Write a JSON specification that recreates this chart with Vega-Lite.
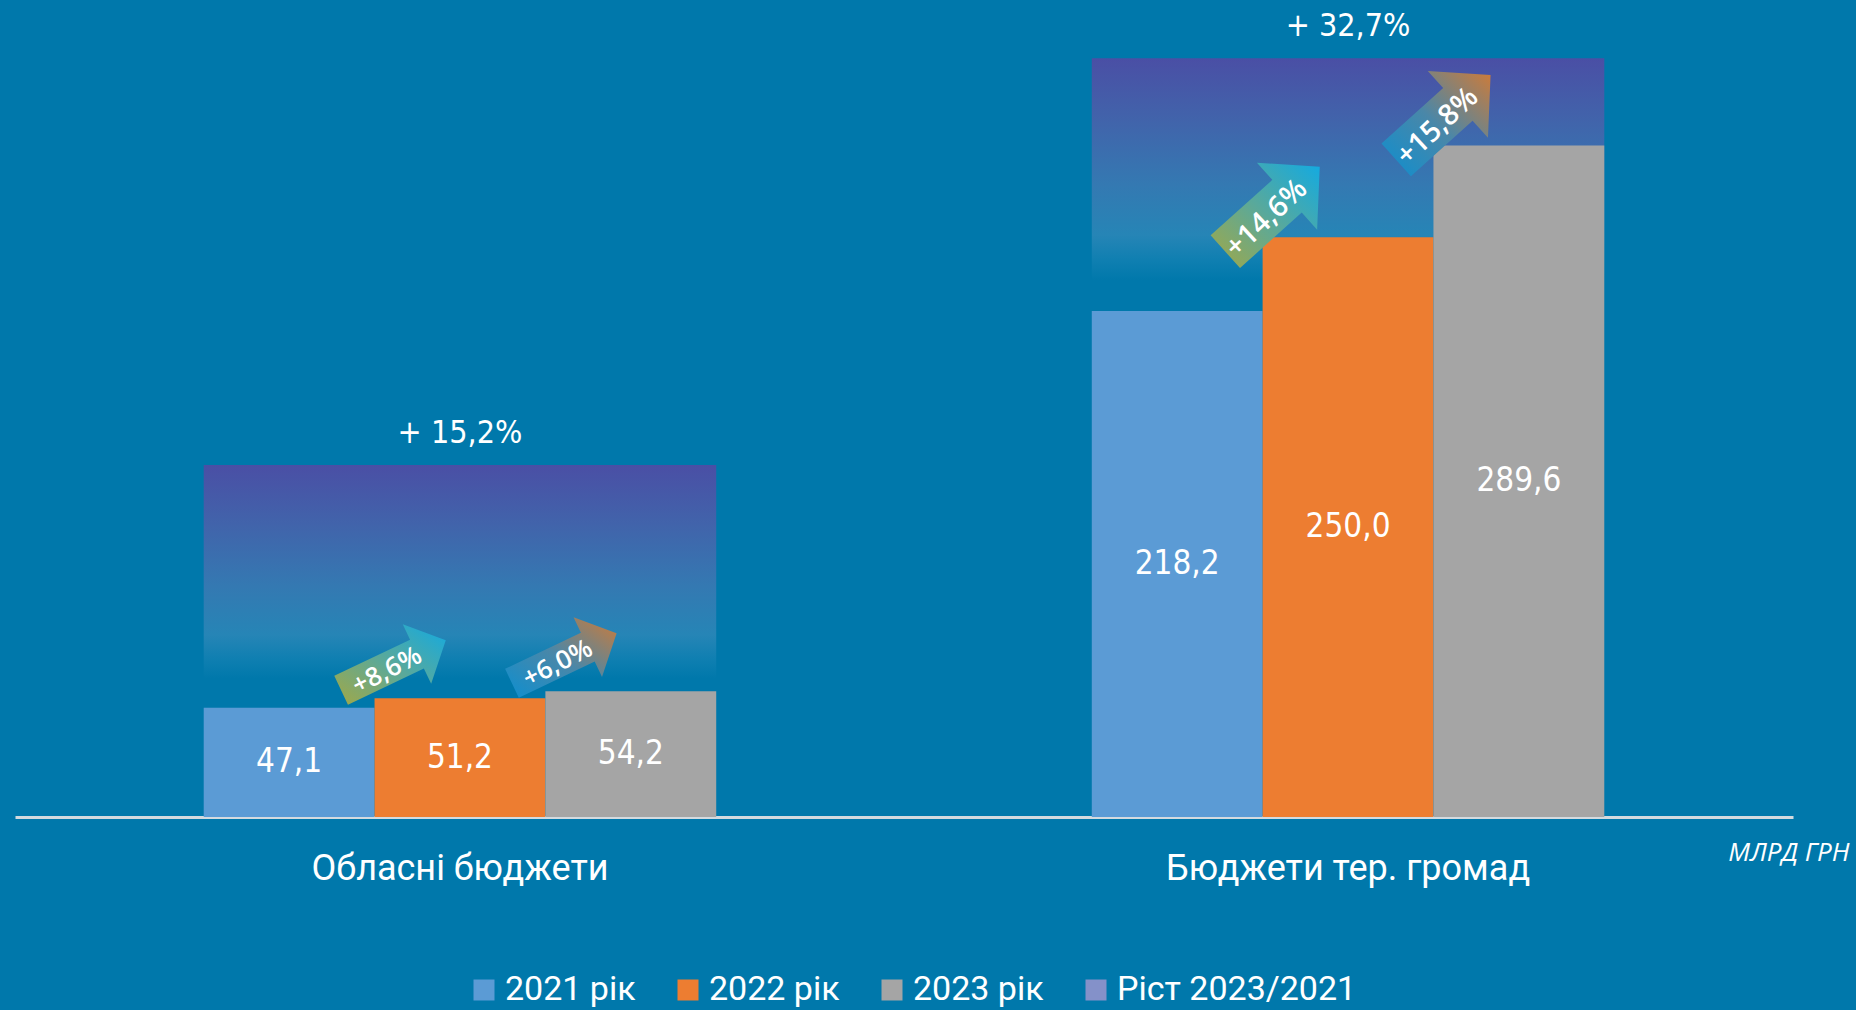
{
  "$schema": "https://vega.github.io/schema/vega-lite/v6.json",
  "width": 1778,
  "height": 817,
  "autosize": {"type": "none"},
  "padding": {"left": 15, "top": 0, "right": 63, "bottom": 193},
  "background": "#0078AB",
  "config": {"view": {"stroke": null}},
  "datasets": {
    "bars": [
      {"category": "Обласні бюджети", "series": "2021 рік", "value": 47.1, "label": "47,1"},
      {"category": "Обласні бюджети", "series": "2022 рік", "value": 51.2, "label": "51,2", "growth": "+8,6%"},
      {"category": "Обласні бюджети", "series": "2023 рік", "value": 54.2, "label": "54,2", "growth": "+6,0%"},
      {"category": "Бюджети тер. громад", "series": "2021 рік", "value": 218.2, "label": "218,2"},
      {"category": "Бюджети тер. громад", "series": "2022 рік", "value": 250.0, "label": "250,0", "growth": "+14,6%"},
      {"category": "Бюджети тер. громад", "series": "2023 рік", "value": 289.6, "label": "289,6", "growth": "+15,8%"}
    ],
    "growth": [
      {"category": "Обласні бюджети", "series": "Ріст 2023/2021", "top": 151.8, "base": 47.1, "label": "+ 15,2%"},
      {"category": "Бюджети тер. громад", "series": "Ріст 2023/2021", "top": 327.2, "base": 218.2, "label": "+ 32,7%"}
    ]
  },
  "resolve": {"scale": {"y": "independent"}},
  "encoding": {
    "x": {
      "field": "category",
      "type": "nominal",
      "scale": {"domain": ["Обласні бюджети", "Бюджети тер. громад"], "paddingInner": 0.4229, "paddingOuter": 0.2125},
      "axis": {
        "title": "МЛРД ГРН",
        "titleFont": "Open Sans",
        "titleFontStyle": "italic",
        "titleFontWeight": "normal",
        "titleFontSize": 26,
        "titleColor": "white",
        "titleX": 1834,
        "titleY": 35,
        "titleAlign": "right",
        "titleBaseline": "middle",
        "labelFont": "Roboto",
        "labelFontSize": 36,
        "labelColor": "white",
        "labelPadding": 34,
        "labelLimit": 1000,
        "labelAngle": 0,
        "ticks": false,
        "grid": false,
        "domainColor": "#d3dadf",
        "domainWidth": 3
      }
    }
  },
  "layer": [
    {
      "data": {"name": "growth"},
      "mark": {
        "type": "bar",
        "color": {
          "gradient": "linear", "x1": 0, "y1": 0, "x2": 0, "y2": 1,
          "stops": [
            {"offset": 0, "color": "#4a4fa5"},
            {"offset": 0.25, "color": "#4164ab"},
            {"offset": 0.5, "color": "#3479b2"},
            {"offset": 0.7, "color": "#2685b6"},
            {"offset": 0.8, "color": "#0f7fb1"},
            {"offset": 0.88, "color": "#0078AB"},
            {"offset": 1, "color": "#0078AB"}
          ]
        }
      },
      "encoding": {
        "y": {"field": "top", "type": "quantitative", "scale": {"domain": [0, 352.3], "nice": false}, "axis": null},
        "y2": {"field": "base"}
      }
    },
    {
      "data": {"name": "bars"},
      "mark": {"type": "bar"},
      "encoding": {
        "xOffset": {"field": "series", "type": "nominal", "scale": {"paddingInner": 0, "paddingOuter": 0}},
        "y": {"field": "value", "type": "quantitative", "scale": {"domain": [0, 352.3], "nice": false}, "axis": null},
        "color": {
          "field": "series",
          "type": "nominal",
          "scale": {
            "domain": ["2021 рік", "2022 рік", "2023 рік", "Ріст 2023/2021"],
            "range": ["#5B9BD5", "#ED7D31", "#A5A5A5", "#8491c9"]
          },
          "legend": {
            "orient": "none",
            "legendX": 452,
            "legendY": 973,
            "direction": "horizontal",
            "columns": 4,
            "title": null,
            "symbolType": "square",
            "symbolSize": 441,
            "symbolStrokeWidth": 0,
            "symbolOpacity": 1,
            "labelFont": "Roboto",
            "labelFontSize": 34,
            "labelColor": "white",
            "labelOffset": 4,
            "labelLimit": 400,
            "columnPadding": 35,
            "padding": 0
          }
        }
      }
    },
    {
      "data": {"name": "bars"},
      "mark": {"type": "text", "color": "white", "font": "'Liberation Sans Narrow', 'DejaVu Sans Condensed', Roboto, sans-serif", "fontSize": 33, "align": "center", "baseline": "middle"},
      "encoding": {
        "xOffset": {"field": "series", "type": "nominal"},
        "y": {"field": "value", "type": "quantitative", "scale": {"domain": [0, 704.6], "nice": false}, "axis": null},
        "text": {"field": "label"}
      }
    },
    {
      "data": {"name": "growth"},
      "mark": {"type": "text", "color": "white", "font": "'Liberation Sans Narrow', 'DejaVu Sans Condensed', Roboto, sans-serif", "fontSize": 32, "align": "center", "baseline": "middle", "dy": -32},
      "encoding": {
        "y": {"field": "top", "type": "quantitative", "scale": {"domain": [0, 352.3], "nice": false}, "axis": null},
        "text": {"field": "label"}
      }
    },
    {
      "data": {"name": "bars"},
      "transform": [{"filter": "datum.series === '2022 рік'"}],
      "mark": {"type": "point", "filled": true, "opacity": 1, "size": 4, "strokeWidth": 0,
               "color": {"gradient": "linear", "x1": 0, "y1": 1, "x2": 1, "y2": 0,
                         "stops": [{"offset": 0, "color": "#a3a845"}, {"offset": 0.5, "color": "#5aa99a"}, {"offset": 1, "color": "#12aae2"}]}},
      "encoding": {
        "xOffset": {"field": "series", "type": "nominal"},
        "y": {"field": "value", "type": "quantitative", "scale": {"domain": [0, 352.3], "nice": false}, "axis": null},
        "shape": {
          "field": "category", "type": "nominal", "legend": null,
          "scale": {
            "domain": ["Обласні бюджети", "Бюджети тер. громад"],
            "range": [
              "M-125.7,-22.5L-49.9,-58.6L-57.2,-74L-14.2,-58L-28.8,-14.4L-36.1,-29.8L-112,6.4Z",
              "M-137.4,-1.9L-75.7,-57.4L-91.1,-74.5L-28.3,-70.5L-30.9,-7.6L-46.3,-24.7L-108,30.8Z"
            ]
          }
        }
      }
    },
    {
      "data": {"name": "bars"},
      "transform": [{"filter": "datum.series === '2023 рік'"}],
      "mark": {"type": "point", "filled": true, "opacity": 1, "size": 4, "strokeWidth": 0,
               "color": {"gradient": "linear", "x1": 0, "y1": 1, "x2": 1, "y2": 0,
                         "stops": [{"offset": 0, "color": "#0d8fd0"}, {"offset": 0.5, "color": "#4a87a8"}, {"offset": 1, "color": "#cf7b38"}]}},
      "encoding": {
        "xOffset": {"field": "series", "type": "nominal"},
        "y": {"field": "value", "type": "quantitative", "scale": {"domain": [0, 352.3], "nice": false}, "axis": null},
        "shape": {"field": "category", "type": "nominal", "legend": null}
      }
    },
    {
      "data": {"name": "bars"},
      "transform": [{"filter": "datum.growth != null && datum.category === 'Обласні бюджети'"}],
      "mark": {"type": "text", "color": "white", "font": "Open Sans", "fontWeight": 600, "fontSize": 26, "align": "center", "baseline": "middle", "angle": -27, "dx": -52.5, "dy": -57.6},
      "encoding": {
        "xOffset": {"field": "series", "type": "nominal"},
        "y": {"field": "value", "type": "quantitative", "scale": {"domain": [0, 352.3], "nice": false}, "axis": null},
        "text": {"field": "growth"}
      }
    },
    {
      "data": {"name": "bars"},
      "transform": [{"filter": "datum.growth != null && datum.category === 'Бюджети тер. громад'"}],
      "mark": {"type": "text", "color": "white", "font": "Open Sans", "fontWeight": 600, "fontSize": 29, "align": "center", "baseline": "middle", "angle": -43, "dx": -46.7, "dy": -69.5},
      "encoding": {
        "xOffset": {"field": "series", "type": "nominal"},
        "y": {"field": "value", "type": "quantitative", "scale": {"domain": [0, 352.3], "nice": false}, "axis": null},
        "text": {"field": "growth"}
      }
    }
  ]
}
